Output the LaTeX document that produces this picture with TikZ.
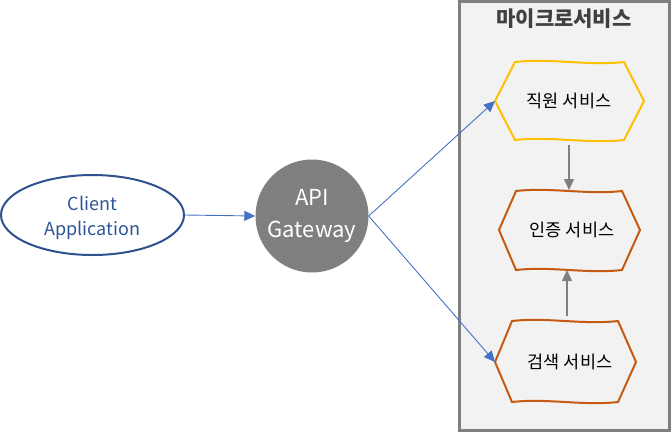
\documentclass[tikz,border=0pt]{standalone}
\usepackage{fontspec}
\setmainfont{Noto Sans CJK KR}
\usetikzlibrary{arrows.meta,shapes.geometric}
\definecolor{boxfill}{HTML}{F2F2F2}
\definecolor{boxdraw}{HTML}{7F7F7F}
\definecolor{yel}{HTML}{FFC000}
\definecolor{org}{HTML}{C55A11}
\definecolor{blu}{HTML}{4472C4}
\definecolor{dblu}{HTML}{2F528F}
\definecolor{ctext}{HTML}{2F5597}
\definecolor{ttl}{HTML}{404040}
\tikzset{
  bluline/.style={draw=blu, line width=0.9pt, -{Triangle[length=11pt,width=10pt]}},
  grayline/.style={draw=boxdraw, line width=1.2pt, -{Triangle[length=11pt,width=10pt]}},
  hexlbl/.style={font=\fontsize{17.5}{20}\selectfont, text=black, inner sep=0pt},
  hexshape/.style={line width=2pt, line join=miter},
}
\begin{document}
\begin{tikzpicture}[x=1pt,y=-1pt]
\useasboundingbox (0,0) rectangle (671,432);
% container
\draw[fill=boxfill, draw=boxdraw, line width=2.5pt] (459.5,1.5) rectangle (669.5,430.5);
\node[font=\bfseries\fontsize{21}{23}\selectfont, text=ttl] (title) at (564,19) {마이크로서비스};
% hexagon 1 (yellow)
\draw[hexshape, draw=yel] (495,101) -- (515,62) .. controls (551,58) and (588,66) .. (624,62) -- (644,101) -- (624,140) .. controls (588,144) and (551,136) .. (515,140) -- cycle;
\node[hexlbl] (emp) at (569,101) {직원 서비스};
\coordinate (emp-w) at (495,101);
\coordinate (emp-s) at (569,145);
% hexagon 2 (orange)
\draw[hexshape, draw=org] (499,230) -- (516,191) .. controls (551,187) and (587,195) .. (622,191) -- (640,230) -- (622,270) .. controls (587,274) and (551,266) .. (516,270) -- cycle;
\node[hexlbl] (auth) at (572,230) {인증 서비스};
\coordinate (auth-n) at (569,190);
\coordinate (auth-s) at (567,270);
% hexagon 3 (orange)
\draw[hexshape, draw=org] (495,362) -- (512,321) .. controls (547,317) and (583,325) .. (618,321) -- (636,362) -- (618,402) .. controls (583,406) and (547,398) .. (512,402) -- cycle;
\node[hexlbl] (srch) at (570,362) {검색 서비스};
\coordinate (srch-w) at (495,362);
\coordinate (srch-n) at (567,316);
% client
\node[ellipse, draw=dblu, line width=2pt, fill=white, minimum width=183pt, minimum height=80pt, inner sep=0pt] (client) at (92.5,215) {};
\node[text=ctext, align=center, inner sep=0pt, font=\fontsize{18}{25}\selectfont] (clientlbl) at (92.5,218) {Client\\Application};
% gateway
\node[circle, fill=boxdraw, minimum size=113pt, inner sep=0pt, text=white, align=center, font=\fontsize{22}{32}\selectfont] (gw) at (312,216) {API\\Gateway};
% connectors
\draw[bluline] (client.east) -- (gw.west);
\draw[bluline] (gw.east) -- (emp-w);
\draw[bluline] (gw.east) -- (srch-w);
\draw[grayline] (emp-s) -- (auth-n);
\draw[grayline] (srch-n) -- (auth-s);
\end{tikzpicture}
\end{document}
